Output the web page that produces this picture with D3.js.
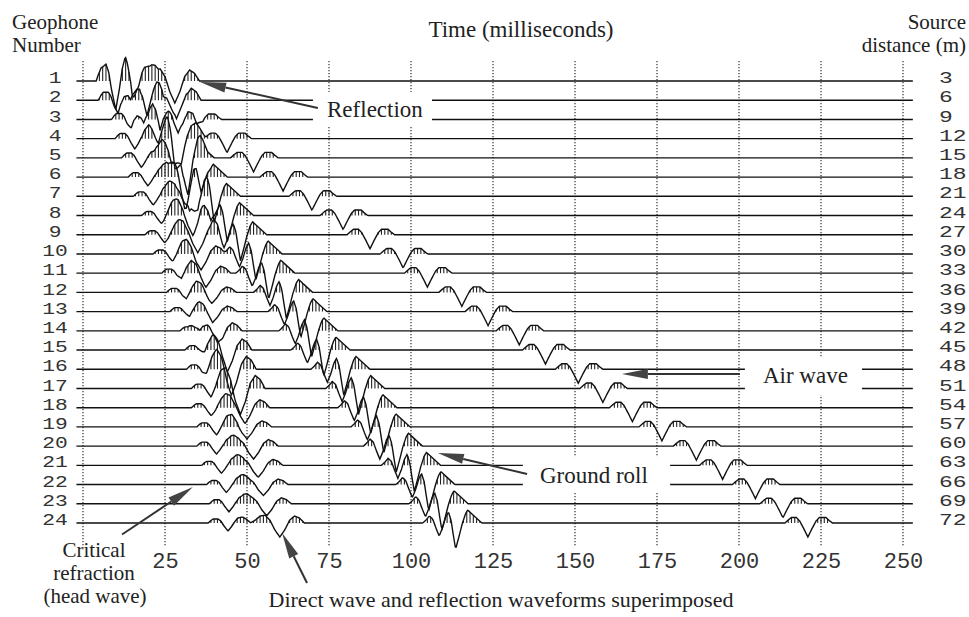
<!DOCTYPE html>
<html>
<head>
<meta charset="utf-8">
<script src="https://cdn.jsdelivr.net/npm/d3@7"></script>
<style>
  body { margin: 0; background: #fff; }
</style>
</head>
<body>
<svg id="chart"></svg>
<script>
// geophone rows and their source distance (m)
const geophones = [1, 2, 3, 4, 5, 6, 7, 8, 9, 10, 11, 12, 13, 14, 15, 16, 17, 18, 19, 20, 21, 22, 23, 24];
const sourceDistance = [3, 6, 9, 12, 15, 18, 21, 24, 27, 30, 33, 36, 39, 42, 45, 48, 51, 54, 57, 60, 63, 66, 69, 72];
const gridTimes = [0, 25, 50, 75, 100, 125, 150, 175, 200, 225, 250];
const timeLabels = [25, 50, 75, 100, 125, 150, 175, 200, 225, 250];

// arrival times (ms) read per trace, with relative amplitude
const firstArrival = [4, 4.7, 8.7, 9.8, 11.8, 13.8, 15.4, 17.9, 18.9, 21.4, 24, 25.5, 26.5, 29.6, 31.1, 31.6, 33.1, 33.1, 34.7, 34.7, 36.2, 37.7, 38.5, 38.2];
const firstAmp = [3.0, 2.0, 1.5, 1.3, 1.2, 1.1, 1.1, 1.0, 1.0, 1.0, 1.0, 1.0, 1.0, 1.0, 1.1, 1.1, 1.1, 1.0, 1.0, 1.0, 1.0, 1.0, 1.0, 1.0];
const reflTime = [28, 28.5, 29, 30, 30.5, 31.5, 32.5, 33.5, 35, 36, 37.5, 39.3, 39.5, 41, 44, 45.3, 48, 49.4, 50, 52, 53.4, 55, 56, 60];
const reflAmp = [1.1, 1.2, 1.2, 1.2, 1.1, 1.1, 1.0, 1.0, 0.9, 0.8, 0.7, 0.55, 0.55, 0.8, 1.1, 1.3, 1.3, 0.8, 0.6, 0.65, 0.6, 0.55, 0.6, 0.7];
const rollEnd = [23, 27.5, 31.5, 36, 40, 44, 48, 52, 56, 60.7, 64.6, 70, 74.4, 77.7, 81.4, 87.5, 92, 95.7, 99.7, 103.5, 109, 113.4, 117.4, 121.6];
const rollAmp = [0.7, 0.8, 0.9, 0.9, 1, 1, 1, 1, 1, 1, 1, 1, 1, 1, 1, 1, 1, 1, 1, 1, 1, 1, 1, 1];
const airTime = [15.5, 24.5, 34.7, 43.9, 52, 61, 69.8, 79.3, 87.5, 97.6, 105, 115.5, 123.5, 133, 141, 151, 158.5, 167.5, 176.5, 187, 195, 205, 213.4, 221];

// wavelet shapes [ms, amplitude]
const headShape = [[0, 0], [0.8, 2.5], [1.5, 4], [3, 4], [3.8, 2], [4.8, -3], [6, -8], [7, -4], [8, 1], [9, 5], [10.5, 6], [11.5, 4], [13, 0]];
const reflShape = [[-9, 0], [-7.5, 4], [-6, 10], [-4.5, 11], [-3, 4], [-1.5, -10], [0, -20], [1.5, -10], [3, 4], [4.5, 10], [6, 7], [7.5, 0]];
const rollShape = [[-18, 0], [-17, 3], [-16, 7], [-15, 4], [-14, -5], [-13, -13], [-12, -5], [-11, 6], [-10.2, 11], [-9.4, 3], [-8.7, -12], [-8, -26], [-7, -14], [-6, -1], [-5, 9], [-4.3, 13], [-3, 9], [-1.5, 4.5], [0, 0]];
const airShape = [[-7, 0], [-6, 3], [-5, 5.5], [-3.5, 5.5], [-2.5, 2], [-1.2, -6], [0, -14], [1.2, -6], [2.5, 2], [3.5, 5.5], [5.5, 5.5], [6.5, 2.5], [7.5, 0]];

const width = 969;
const height = 617;

const x = d3.scaleLinear().domain([0, 250]).range([83, 903]);
const y = d3.scaleLinear().domain([1, 24]).range([81, 523]);
const amp = d3.scaleLinear().domain([0, 10]).range([0, -10]);

const serif = "'Liberation Serif', 'Times New Roman', serif";
const mono = "'Liberation Mono', 'DejaVu Sans Mono', monospace";

const svg = d3.select("#chart")
    .attr("width", width)
    .attr("height", height);

function pulse(shape) {
    const s = d3.scaleLinear().domain(shape.map(d => d[0])).range(shape.map(d => d[1]));
    const lo = shape[0][0], hi = shape[shape.length - 1][0];
    return dt => (dt < lo || dt > hi) ? 0 : s(dt);
}
const head = pulse(headShape), refl = pulse(reflShape), roll = pulse(rollShape), air = pulse(airShape);

function trace(i, t) {
    return head(t - firstArrival[i]) * firstAmp[i]
        + refl(t - reflTime[i]) * reflAmp[i]
        + roll(t - rollEnd[i]) * rollAmp[i]
        + air(t - airTime[i]);
}

// dotted time grid
svg.append("g")
    .selectAll("line")
    .data(gridTimes)
    .join("line")
    .attr("x1", d => x(d)).attr("x2", d => x(d))
    .attr("y1", 61).attr("y2", 546)
    .attr("stroke", "#333")
    .attr("stroke-width", 1.2)
    .attr("stroke-dasharray", "1.2,1.8");

// wiggle traces with hatched positive lobes
const samples = d3.range(-2, 253.01, 0.25);
const hatchTimes = d3.range(-2, 253, 1);
const line = d3.line().x(d => x(d[0])).y(d => d[1]);

geophones.forEach((g, i) => {
    const base = y(g);
    const pts = samples.map(t => [t, base + amp(trace(i, t))]);
    const tg = svg.append("g");
    tg.selectAll("line")
        .data(hatchTimes.filter(t => trace(i, t) > 1.5))
        .join("line")
        .attr("x1", t => x(t)).attr("x2", t => x(t))
        .attr("y1", base).attr("y2", t => base + amp(trace(i, t)))
        .attr("stroke", "#222")
        .attr("stroke-width", 1.1);
    tg.append("path")
        .datum(pts)
        .attr("fill", "none")
        .attr("stroke", "#111")
        .attr("stroke-width", 1.4)
        .attr("d", line);
});

// row labels (narrow rows, so the digits are widened instead of enlarged)
svg.append("g")
    .selectAll("text")
    .data(geophones)
    .join("text")
    .attr("transform", d => `translate(55,${y(d) - 4}) scale(1.25,1)`)
    .attr("dy", "0.36em")
    .attr("text-anchor", "middle")
    .attr("font-family", mono)
    .attr("font-size", 17)
    .attr("fill", "#333")
    .text(d => d);

svg.append("g")
    .selectAll("text")
    .data(sourceDistance)
    .join("text")
    .attr("transform", (d, i) => `translate(939,${y(geophones[i]) - 4}) scale(1.35,1)`)
    .attr("dy", "0.36em")
    .attr("font-family", mono)
    .attr("font-size", 17)
    .attr("fill", "#333")
    .text(d => d);

// time axis labels
svg.append("g")
    .attr("transform", "translate(0,552)")
    .call(d3.axisBottom(x).tickValues(timeLabels).tickSize(0).tickPadding(0))
    .call(g => g.select(".domain").remove())
    .call(g => g.selectAll("text")
        .attr("font-family", mono)
        .attr("font-size", 22)
        .attr("fill", "#333"));

// headers
const headers = [
    { text: "Geophone", x: 12, y: 29, anchor: "start", size: 21 },
    { text: "Number", x: 12, y: 52, anchor: "start", size: 21 },
    { text: "Time (milliseconds)", x: 521, y: 37, anchor: "middle", size: 23 },
    { text: "Source", x: 966, y: 29, anchor: "end", size: 21 },
    { text: "distance (m)", x: 966, y: 52, anchor: "end", size: 21 },
    { text: "Critical", x: 94, y: 557, anchor: "middle", size: 21 },
    { text: "refraction", x: 94, y: 580, anchor: "middle", size: 21 },
    { text: "(head wave)", x: 95, y: 603, anchor: "middle", size: 21 },
    { text: "Direct wave and reflection waveforms superimposed", x: 501, y: 607, anchor: "middle", size: 22 }
];
svg.append("g")
    .selectAll("text")
    .data(headers)
    .join("text")
    .attr("x", d => d.x)
    .attr("y", d => d.y)
    .attr("text-anchor", d => d.anchor)
    .attr("font-family", serif)
    .attr("font-size", d => d.size)
    .attr("fill", "#222")
    .text(d => d.text);

// in-plot labels, positioned in time / geophone units
const plotLabels = [
    { text: "Reflection", t: 74.4, g: 2.88, box: [70.1, 106.4, 1.57, 3.34] },
    { text: "Air wave", t: 207.3, g: 16.71, box: [201.8, 237.5, 15.4, 17.34] },
    { text: "Ground roll", t: 139.3, g: 21.92, box: [134.1, 179, 20.57, 22.39] }
];
svg.append("g")
    .selectAll("rect")
    .data(plotLabels)
    .join("rect")
    .attr("x", d => x(d.box[0]))
    .attr("width", d => x(d.box[1]) - x(d.box[0]))
    .attr("y", d => y(d.box[2]))
    .attr("height", d => y(d.box[3]) - y(d.box[2]))
    .attr("fill", "#fff");
svg.append("g")
    .selectAll("text")
    .data(plotLabels)
    .join("text")
    .attr("x", d => x(d.t))
    .attr("y", d => y(d.g))
    .attr("font-family", serif)
    .attr("font-size", 23)
    .attr("fill", "#222")
    .text(d => d.text);

// arrows: tail -> tip
const arrows = [
    { from: [71.6, 2.4], to: [35.7, 1.05] },
    { from: [200.3, 16.25], to: [164.3, 16.25] },
    { from: [135.4, 21.45], to: [108.2, 20.36] },
    { from: [11.9, 24.6], to: [33.5, 22.13] },
    { from: [68.3, 27.12], to: [60.7, 24.52] }
];
const ag = svg.append("g");
arrows.forEach(a => {
    const x1 = x(a.from[0]), y1 = y(a.from[1]);
    const x2 = x(a.to[0]), y2 = y(a.to[1]);
    const len = Math.hypot(x2 - x1, y2 - y1);
    const ux = (x2 - x1) / len, uy = (y2 - y1) / len;
    const hl = 26, hw = 5;
    const bx = x2 - ux * hl, by = y2 - uy * hl;
    ag.append("line")
        .attr("x1", x1).attr("y1", y1)
        .attr("x2", bx).attr("y2", by)
        .attr("stroke", "#333")
        .attr("stroke-width", 2);
    ag.append("path")
        .attr("d", `M${x2},${y2}L${bx - uy * hw},${by + ux * hw}L${bx + uy * hw},${by - ux * hw}Z`)
        .attr("fill", "#444");
});
</script>
</body>
</html>
